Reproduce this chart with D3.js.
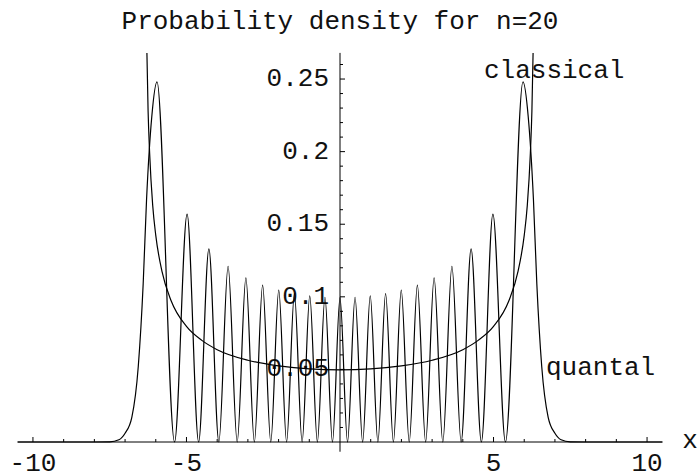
<!DOCTYPE html>
<html>
<head>
<meta charset="utf-8">
<script src="https://cdn.jsdelivr.net/npm/d3@7"></script>
<style>
  body { margin: 0; background: #fff; }
  svg text { font-family: "Liberation Mono", "Courier New", monospace; fill: #111; }
</style>
</head>
<body>
<svg id="chart" width="699" height="475"></svg>
<script>
// quantal density |psi_20|^2 (peaks, zeros, tails)
const quantalX = [
  -10.5, -8.0, -7.5, -7.2, -7.0, -6.78, -6.57, -6.41, -6.30, -6.13, -5.96,
  -5.388, -4.98, -4.604, -4.27, -3.945, -3.645, -3.348, -3.065, -2.789, -2.52,
  -2.255, -1.995, -1.739, -1.485, -1.234, -0.985, -0.737, -0.49, -0.245, 0,
  0.245, 0.49, 0.737, 0.985, 1.234, 1.485, 1.739, 1.995, 2.255, 2.52,
  2.789, 3.065, 3.348, 3.645, 3.945, 4.27, 4.604, 4.98, 5.388,
  5.96, 6.13, 6.30, 6.41, 6.57, 6.78, 7.0, 7.2, 7.5, 8.0, 10.5
];
const quantalY = [
  0, 0, 0.0001, 0.0015, 0.006, 0.017, 0.052, 0.109, 0.167, 0.224, 0.248,
  0, 0.157, 0, 0.133, 0, 0.121, 0, 0.113, 0, 0.108,
  0, 0.1046, 0, 0.1022, 0, 0.1006, 0, 0.0997, 0, 0.0994,
  0, 0.0997, 0, 0.1006, 0, 0.1022, 0, 0.1046, 0, 0.108,
  0, 0.113, 0, 0.121, 0, 0.133, 0, 0.157, 0,
  0.248, 0.224, 0.167, 0.109, 0.052, 0.017, 0.006, 0.0015, 0.0001, 0, 0
];

// classical density (runs off the top near +-6.3)
const classicalX = [-6.34, -6.3, -6.25, -6.2, -6.1, -6.0, -5.8, -5.5, -5.0, -4.5, -4.0, -3.0, -2.0, -1.0, 0,
  1.0, 2.0, 3.0, 4.0, 4.5, 5.0, 5.5, 5.8, 6.0, 6.1, 6.2, 6.25, 6.3, 6.34];
const classicalY = [0.34, 0.28, 0.228, 0.199, 0.163, 0.1423, 0.1177, 0.0973, 0.0796, 0.0700, 0.0636, 0.0563, 0.0524, 0.0503, 0.0497,
  0.0503, 0.0524, 0.0563, 0.0636, 0.0700, 0.0796, 0.0973, 0.1177, 0.1423, 0.163, 0.199, 0.228, 0.28, 0.34];

const xTicks = [-10, -5, 5, 10];
const xTickLabels = ["-10", "-5", "5", "10"];
const yTicks = [0.05, 0.1, 0.15, 0.2, 0.25];
const yTickLabels = ["0.05", "0.1", "0.15", "0.2", "0.25"];

const svg = d3.select("#chart");
const fontSize = 26;

const x = d3.scaleLinear().domain([-10.5, 10.5]).range([17.6, 662.4]);
const y = d3.scaleLinear().domain([0, 0.268]).range([442, 52.9]);

// title
svg.append("text")
  .attr("x", 340).attr("y", 29)
  .attr("text-anchor", "middle")
  .style("font-size", fontSize + "px")
  .text("Probability density for n=20");

// axes lines
svg.append("line")
  .attr("x1", x(-10.5)).attr("x2", x(10.5))
  .attr("y1", y(0)).attr("y2", y(0))
  .attr("stroke", "#000").attr("stroke-width", 1);
svg.append("line")
  .attr("x1", x(0)).attr("x2", x(0))
  .attr("y1", y(-0.0067)).attr("y2", y(0.268))
  .attr("stroke", "#000").attr("stroke-width", 1);

// x ticks, minor every 1
d3.range(-10, 11).filter(v => v !== 0).forEach(v => {
  const major = v % 5 === 0;
  svg.append("line")
    .attr("x1", x(v)).attr("x2", x(v))
    .attr("y1", y(0)).attr("y2", y(0) - (major ? 5 : 3))
    .attr("stroke", "#000").attr("stroke-width", 1);
});
xTicks.forEach((v, i) => {
  svg.append("text")
    .attr("x", x(v)).attr("y", 471)
    .attr("text-anchor", "middle")
    .style("font-size", fontSize + "px")
    .text(xTickLabels[i]);
});
svg.append("text")
  .attr("x", 690).attr("y", 448)
  .attr("text-anchor", "middle")
  .style("font-size", fontSize + "px")
  .text("x");

// y ticks, minor every 0.01
d3.range(1, 27).forEach(k => {
  const v = k / 100;
  const major = k % 5 === 0;
  svg.append("line")
    .attr("x1", x(0)).attr("x2", x(0) + (major ? 5 : 3))
    .attr("y1", y(v)).attr("y2", y(v))
    .attr("stroke", "#000").attr("stroke-width", 1);
});
yTicks.forEach((v, i) => {
  svg.append("text")
    .attr("x", 329).attr("y", y(v) + 7)
    .attr("text-anchor", "end")
    .style("font-size", fontSize + "px")
    .text(yTickLabels[i]);
});

// curves
const line = d3.line().curve(d3.curveMonotoneX);

svg.append("clipPath").attr("id", "plotClip")
  .append("rect")
  .attr("x", 0).attr("y", y(0.268))
  .attr("width", 699).attr("height", y(-0.0067) - y(0.268));

svg.append("path")
  .attr("d", line(classicalX.map((v, i) => [x(v), y(classicalY[i])])))
  .attr("clip-path", "url(#plotClip)")
  .attr("fill", "none").attr("stroke", "#000").attr("stroke-width", 1.2);

svg.append("path")
  .attr("d", line(quantalX.map((v, i) => [x(v), y(quantalY[i])])))
  .attr("fill", "none").attr("stroke", "#000").attr("stroke-width", 1.2);

// curve labels
svg.append("text")
  .attr("x", 484).attr("y", 78)
  .style("font-size", fontSize + "px")
  .text("classical");
svg.append("text")
  .attr("x", 546).attr("y", 375)
  .style("font-size", fontSize + "px")
  .text("quantal");
</script>
</body>
</html>
